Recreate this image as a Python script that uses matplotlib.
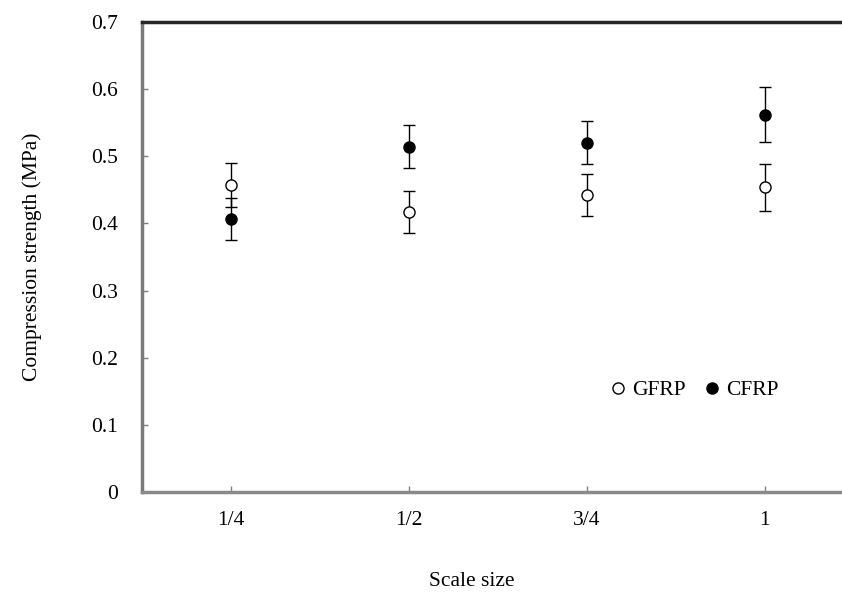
import matplotlib.pyplot as plt
from matplotlib.lines import Line2D
from matplotlib.ticker import FixedLocator

plt.rcParams["font.family"] = ["Liberation Serif", "DejaVu Serif"]

scales = ["1/4", "1/2", "3/4", "1"]
gfrp_mean = [0.457, 0.417, 0.442, 0.454]
gfrp_err = [0.033, 0.031, 0.031, 0.035]
cfrp_mean = [0.407, 0.514, 0.520, 0.562]
cfrp_err = [0.031, 0.032, 0.032, 0.041]
yticks = [0, 0.1, 0.2, 0.3, 0.4, 0.5, 0.6, 0.7]
ytick_labels = ["0", "0.1", "0.2", "0.3", "0.4", "0.5", "0.6", "0.7"]

fig = plt.figure(figsize=(8.42, 5.95), dpi=100)
ax = fig.add_axes([0.1686, 0.1731, 0.8454, 0.7899])

x = list(range(1, len(scales) + 1))
ax.errorbar(x, gfrp_mean, yerr=gfrp_err, fmt="o", mfc="white", mec="black",
            ms=8, mew=1.0, ecolor="black", elinewidth=1.0, capsize=4.5,
            capthick=1.0, zorder=3)
ax.errorbar(x, cfrp_mean, yerr=cfrp_err, fmt="o", mfc="black", mec="black",
            ms=8, mew=1.0, ecolor="black", elinewidth=1.0, capsize=4.5,
            capthick=1.0, zorder=3)

ax.set_xlim(0.5, 4.5)
ax.set_ylim(0, 0.7)
ax.xaxis.set_major_locator(FixedLocator(x))
ax.set_xticklabels(scales)
ax.set_yticks(yticks)
ax.set_yticklabels(ytick_labels)
ax.tick_params(axis="both", direction="in", length=4, width=1, color="#808080",
               labelsize=15.5)
ax.tick_params(axis="y", pad=17)
ax.tick_params(axis="x", pad=14)

ax.spines["left"].set_color("#7a7a7a")
ax.spines["left"].set_linewidth(2.5)
ax.spines["bottom"].set_color("#8a8a8a")
ax.spines["bottom"].set_linewidth(2.5)
ax.spines["top"].set_color("#262626")
ax.spines["top"].set_linewidth(2.5)
ax.spines["right"].set_visible(False)

ax.set_ylabel("Compression strength (MPa)", fontsize=15.5)
ax.yaxis.set_label_coords(-0.140, 0.5)
ax.set_xlabel("Scale size", fontsize=15.5)
ax.xaxis.set_label_coords(0.463, -0.170)

handles = [
    Line2D([], [], ls="none", marker="o", ms=8, mfc="white", mec="black", mew=1.0),
    Line2D([], [], ls="none", marker="o", ms=8, mfc="black", mec="black", mew=1.0),
]
ax.legend(handles, ["GFRP", "CFRP"], loc="center", bbox_to_anchor=(0.775, 0.217),
          ncol=2, frameon=False, fontsize=15.5, handletextpad=0.2,
          columnspacing=0.8, handlelength=0.9, borderpad=0)

fig.savefig("out.png", dpi=100)
